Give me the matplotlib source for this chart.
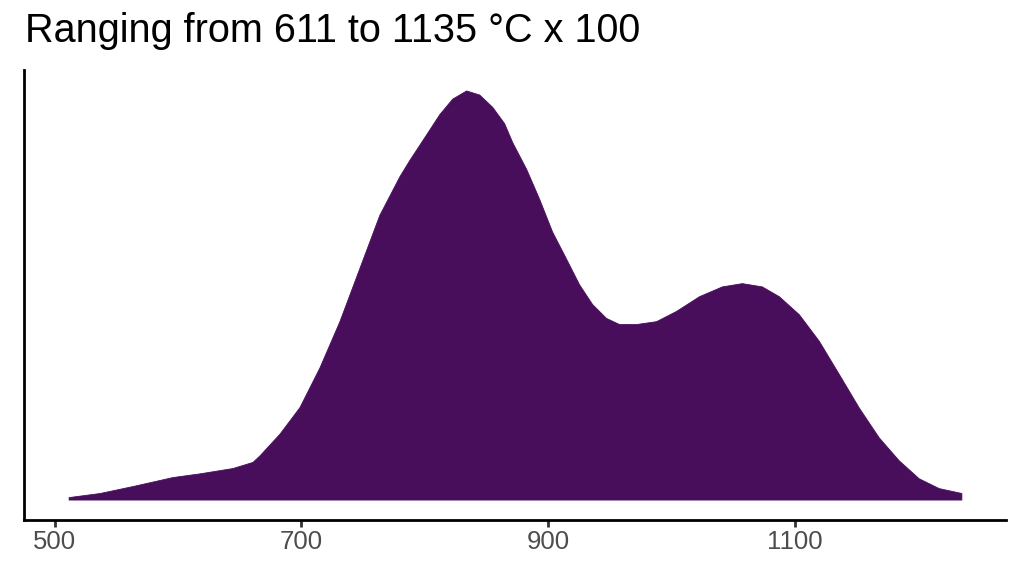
import numpy as np
import matplotlib
matplotlib.use("Agg")
import matplotlib.pyplot as plt

# density curve (x in °C, density scaled so peak = 1)
temp = [511.3, 536.5, 563.2, 595.6, 617.5, 644.2, 660.4, 666.1, 682.3, 698.5,
        714.7, 730.9, 747.1, 763.3, 779.5, 787.6, 801.3, 811.9, 822.4, 833.7,
        844.3, 854.8, 864.5, 871.0, 882.4, 892.9, 903.4, 914.7, 925.3, 935.8,
        947.1, 957.7, 971.5, 987.7, 1003.9, 1022.5, 1041.1, 1057.3, 1073.5,
        1087.3, 1103.5, 1119.7, 1135.9, 1152.1, 1168.3, 1184.5, 1200.7,
        1216.9, 1235.3]
dens = [0.006, 0.016, 0.033, 0.055, 0.064, 0.077, 0.092, 0.108, 0.161, 0.226,
        0.323, 0.436, 0.566, 0.696, 0.790, 0.830, 0.893, 0.942, 0.980, 1.000,
        0.990, 0.960, 0.920, 0.874, 0.808, 0.735, 0.655, 0.589, 0.526, 0.478,
        0.444, 0.429, 0.429, 0.436, 0.461, 0.497, 0.521, 0.529, 0.521,
        0.497, 0.453, 0.388, 0.307, 0.225, 0.152, 0.096, 0.052,
        0.028, 0.016]
xticks = [500, 700, 900, 1100]
title = "Ranging from 611 to 1135 °C x 100"

plt.rcParams['font.family'] = ['Liberation Sans', 'DejaVu Sans']

fig = plt.figure(figsize=(10.24, 5.76), dpi=100)
ax = fig.add_axes([24/1024, 1 - 520/576, 982/1024, 450/576])

x = np.array(temp)
y = np.array(dens)
ax.fill_between(x, 0, y, color='#480E5C', linewidth=0.6, edgecolor='#480E5C')

# ggplot style 5% expansion
span = x.max() - x.min()
ax.set_xlim(x.min() - 0.05*span, x.max() + 0.05*span)
ax.set_ylim(-0.05, 1.05)

ax.set_xticks(xticks)
ax.set_xticklabels([str(t) for t in xticks])
ax.set_yticks([])
for s in ['top', 'right']:
    ax.spines[s].set_visible(False)
for s in ['left', 'bottom']:
    ax.spines[s].set_linewidth(2)
    ax.spines[s].set_color('black')
ax.tick_params(axis='x', length=5, width=2, color='#333333',
               labelsize=18.5, labelcolor='#4D4D4D', pad=2.5)

fig.text(25/1024, 1 - 42/576, title, fontsize=28.5, color='black',
         ha='left', va='baseline')

fig.savefig('out.png', dpi=100)
